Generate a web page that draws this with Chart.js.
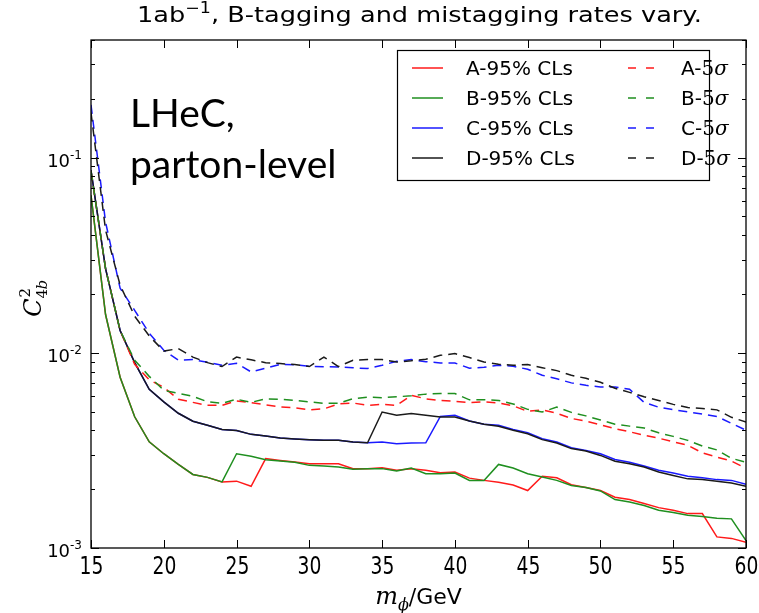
<!DOCTYPE html>
<html>
<head>
<meta charset="utf-8">
<script src="https://cdn.jsdelivr.net/npm/chart.js@4.4.1/dist/chart.umd.min.js"></script>
<style>
  html, body { margin: 0; padding: 0; background: #fff; }
  #wrap { width: 759px; height: 613px; }
</style>
</head>
<body>
<div id="wrap"><canvas id="c" width="759" height="613"></canvas></div>
<script>
// m_phi / GeV
const masses = [15, 16, 17, 18, 19, 20, 21, 22, 23, 24, 25, 26, 27, 28, 29, 30, 31, 32, 33, 34,
  35, 36, 37, 38, 39, 40, 41, 42, 43, 44, 45, 46, 47, 48, 49, 50, 51, 52, 53, 54,
  55, 56, 57, 58, 59, 60];

// 95% CLs curves
const a95 = [0.064, 0.0157, 0.0075, 0.0047, 0.0035, 0.00304, 0.00268, 0.00238, 0.0023, 0.00218,
  0.0022, 0.00207, 0.00287, 0.00281, 0.00276, 0.0027, 0.0027, 0.0027, 0.00255, 0.00255,
  0.00258, 0.0025, 0.00255, 0.0025, 0.00243, 0.00245, 0.00228, 0.00222, 0.00217, 0.0021,
  0.00197, 0.00233, 0.00229, 0.00211, 0.00204, 0.00197, 0.00182, 0.00177, 0.00169, 0.00161,
  0.00156, 0.0015, 0.0015, 0.00114, 0.00112, 0.00107];
const b95 = [0.064, 0.0157, 0.0075, 0.0047, 0.0035, 0.00304, 0.00268, 0.00238, 0.0023, 0.00218,
  0.00304, 0.00295, 0.00283, 0.00279, 0.00275, 0.00265, 0.00263, 0.0026, 0.00253, 0.00255,
  0.00255, 0.00248, 0.00257, 0.0024, 0.0024, 0.00242, 0.00222, 0.00222, 0.00268, 0.00257,
  0.0024, 0.00231, 0.00222, 0.00209, 0.00204, 0.00196, 0.00177, 0.00172, 0.00165, 0.00156,
  0.00152, 0.00147, 0.00145, 0.00142, 0.00141, 0.00109];
const c95 = [0.086, 0.027, 0.013, 0.0089, 0.0065, 0.0056, 0.0049, 0.00446, 0.00425, 0.00405,
  0.004, 0.00382, 0.00375, 0.00366, 0.00362, 0.00359, 0.00356, 0.00356, 0.00349, 0.00346,
  0.00349, 0.00342, 0.00345, 0.00346, 0.00472, 0.00478, 0.00447, 0.0043, 0.00425, 0.00405,
  0.0039, 0.00363, 0.00349, 0.00326, 0.00316, 0.00304, 0.00284, 0.00275, 0.00263, 0.0025,
  0.00242, 0.00233, 0.00229, 0.00224, 0.00222, 0.00212];
const d95 = [0.086, 0.027, 0.013, 0.0089, 0.0065, 0.0056, 0.0049, 0.00446, 0.00425, 0.00405,
  0.004, 0.00382, 0.00375, 0.00366, 0.00362, 0.00359, 0.00356, 0.00356, 0.00349, 0.00346,
  0.00497, 0.00478, 0.00488, 0.00478, 0.00469, 0.00469, 0.00447, 0.0043, 0.0042, 0.00401,
  0.00385, 0.00359, 0.00345, 0.00323, 0.00314, 0.00298, 0.00278, 0.0027, 0.0026, 0.00245,
  0.00235, 0.00226, 0.00224, 0.0022, 0.00215, 0.00207];

// 5 sigma curves
const a5s = [0.085, 0.027, 0.013, 0.00873, 0.00727, 0.00665, 0.00578, 0.00557, 0.00538, 0.00538,
  0.00567, 0.00555, 0.00541, 0.00528, 0.00522, 0.0051, 0.00516, 0.00547, 0.00553, 0.00538,
  0.00544, 0.00538, 0.00605, 0.00581, 0.0057, 0.00564, 0.00555, 0.0056, 0.00553, 0.00535,
  0.00501, 0.0051, 0.0049, 0.00461, 0.00446, 0.00428, 0.00408, 0.00394, 0.00378, 0.00365,
  0.0035, 0.00336, 0.00307, 0.00292, 0.00279, 0.00256];
const b5s = [0.085, 0.027, 0.013, 0.00916, 0.00757, 0.00642, 0.0062, 0.00598, 0.00561, 0.00551,
  0.00578, 0.00557, 0.00581, 0.00578, 0.0057, 0.00561, 0.00551, 0.00551, 0.00582, 0.00593,
  0.00589, 0.00595, 0.00602, 0.00614, 0.00618, 0.00618, 0.00574, 0.00575, 0.0057, 0.00547,
  0.00513, 0.00497, 0.00527, 0.00495, 0.00475, 0.00453, 0.0043, 0.00421, 0.00412, 0.00389,
  0.00373, 0.00356, 0.00333, 0.00318, 0.00288, 0.00275];
const c5s = [0.186, 0.0467, 0.0214, 0.0165, 0.0126, 0.0103, 0.00916, 0.00923, 0.00894, 0.00863,
  0.00884, 0.00798, 0.00833, 0.00873, 0.00867, 0.00853, 0.00849, 0.00846, 0.00838, 0.0083,
  0.00863, 0.00904, 0.00923, 0.009, 0.00887, 0.00887, 0.00833, 0.00843, 0.00863, 0.00853,
  0.00823, 0.00767, 0.00736, 0.00701, 0.00681, 0.00668, 0.00668, 0.0065, 0.00557, 0.00526,
  0.00511, 0.00498, 0.00486, 0.00472, 0.00435, 0.00401];
const d5s = [0.17, 0.0425, 0.0222, 0.0154, 0.0122, 0.0102, 0.0105, 0.0095, 0.0089, 0.0085,
  0.0095, 0.0092, 0.0089, 0.0088, 0.0087, 0.0085, 0.0095, 0.0085, 0.00916, 0.00923,
  0.00923, 0.00897, 0.0091, 0.00927, 0.0097, 0.0099, 0.00945, 0.00897, 0.00873, 0.00863,
  0.0087, 0.00838, 0.0081, 0.00767, 0.0074, 0.00706, 0.00658, 0.00627, 0.00595, 0.0057,
  0.00544, 0.00524, 0.00518, 0.0051, 0.00467, 0.00442];

const xTicks = [15, 20, 25, 30, 35, 40, 45, 50, 55, 60];
const yDecades = [-3, -2, -1];
const names95 = ['A-95% CLs', 'B-95% CLs', 'C-95% CLs', 'D-95% CLs'];
const names5s = ['A-', 'B-', 'C-', 'D-'];
const colors = ['#ff1a1a', '#1f8f1f', '#1a1aff', '#1a1a1a'];

const sets95 = [a95, b95, c95, d95];
const sets5s = [a5s, b5s, c5s, d5s];
const DASH = [9, 6];

function pts(arr) { return masses.map((m, i) => ({ x: m, y: arr[i] })); }

const datasets = [];
sets95.forEach((arr, i) => datasets.push({
  label: names95[i], data: pts(arr), borderColor: colors[i], borderWidth: 1.5, order: 8 - i
}));
sets5s.forEach((arr, i) => datasets.push({
  label: names5s[i] + '5σ', data: pts(arr), borderColor: colors[i], borderWidth: 1.5,
  borderDash: DASH, order: 4 - i
}));

// draw a list of text runs left to right: [text, font, dy]
function runs(ctx, parts, x, y) {
  let cx = x;
  parts.forEach(([t, f, dy]) => {
    ctx.font = f;
    ctx.fillText(t, cx, y + (dy || 0));
    cx += ctx.measureText(t).width;
  });
  return cx;
}
function runsWidth(ctx, parts) {
  let w = 0;
  parts.forEach(([t, f]) => { ctx.font = f; w += ctx.measureText(t).width; });
  return w;
}

const SANS = '"DejaVu Sans", sans-serif';
const SERIF = '"DejaVu Serif", serif';
const it = px => 'italic ' + px + 'px ' + SERIF;

const overlay = {
  id: 'overlay',
  afterDatasetsDraw(chart) {
    const { ctx, chartArea: a, scales: { x, y } } = chart;
    ctx.save();
    ctx.strokeStyle = '#000';
    ctx.fillStyle = '#000';
    ctx.lineWidth = 1;
    const seg = (x1, y1, x2, y2) => { ctx.beginPath(); ctx.moveTo(x1, y1); ctx.lineTo(x2, y2); ctx.stroke(); };

    // x ticks, inward on bottom and top
    ctx.textAlign = 'center';
    ctx.textBaseline = 'alphabetic';
    xTicks.forEach(v => {
      const px = Math.round(x.getPixelForValue(v)) + 0.5;
      seg(px, a.bottom, px, a.bottom - 8);
      seg(px, a.top, px, a.top + 8);
      ctx.save();
      ctx.translate(px, 574);
      ctx.scale(0.78, 1);
      ctx.font = '24px ' + SANS;
      ctx.fillText(String(v), 0, 0);
      ctx.restore();
    });

    // y ticks, log decades plus minor ticks
    yDecades.forEach(e => {
      const base = Math.pow(10, e);
      const py = Math.round(y.getPixelForValue(base)) + 0.5;
      seg(a.left, py, a.left + 8, py);
      seg(a.right, py, a.right - 8, py);
      for (let m = 2; m <= 9; m++) {
        const v = m * base;
        if (v > y.max) break;
        const q = Math.round(y.getPixelForValue(v)) + 0.5;
        seg(a.left, q, a.left + 4, q);
        seg(a.right, q, a.right - 4, q);
      }
      ctx.textAlign = 'left';
      const parts = [['10', '18px ' + SANS, 0], [String(e), '12px ' + SANS, -8]];
      const w = runsWidth(ctx, parts);
      runs(ctx, parts, 82 - w, py + 8);
    });

    // axes frame
    ctx.lineWidth = 1.3;
    ctx.strokeRect(a.left, a.top, a.right - a.left, a.bottom - a.top);

    // title with superscript
    const tparts = [['1ab', '22px ' + SANS, 0], ['\u22121', '15px ' + SANS, -9],
      [', B-tagging and mistagging rates vary.', '22px ' + SANS, 0]];
    const tw = runsWidth(ctx, tparts);
    ctx.save();
    ctx.translate(137, 22);
    ctx.scale(565 / tw, 1);
    ctx.textAlign = 'left';
    runs(ctx, tparts, 0, 0);
    ctx.restore();

    // y axis label C^2_{4b}
    ctx.save();
    ctx.translate(41, 298);
    ctx.rotate(-Math.PI / 2);
    ctx.textAlign = 'left';
    ctx.font = it(24);
    const cw = ctx.measureText('C').width;
    ctx.font = '15px ' + SERIF;
    const sw = ctx.measureText('2').width;
    ctx.font = it(15);
    const bw = ctx.measureText('4b').width;
    const x0 = -(cw + Math.max(sw, bw)) / 2;
    ctx.font = it(24);
    ctx.fillText('C', x0, 0);
    ctx.font = '15px ' + SERIF;
    ctx.fillText('2', x0 + cw + 1, -11);
    ctx.fillText('4', x0 + cw, 6);
    ctx.font = it(15);
    ctx.fillText('b', x0 + cw + 9, 6);
    ctx.restore();

    // x axis label m_phi / GeV
    const xparts = [['m', it(24), 0], ['\u03d5', it(16), 6], ['/', '22px ' + SERIF, 0],
      ['GeV', '22px ' + SANS, 0]];
    const xw = runsWidth(ctx, xparts);
    ctx.textAlign = 'left';
    runs(ctx, xparts, (a.left + a.right) / 2 - xw / 2, 604);

    // annotation
    ctx.font = '39px Lato, "Open Sans", sans-serif';
    ctx.fillText('LHeC,', 130, 127);
    ctx.fillText('parton-level', 130, 178);

    // legend
    const L = { x: 397.5, y: 50.5, w: 312, h: 130 };
    ctx.fillStyle = '#fff';
    ctx.fillRect(L.x, L.y, L.w, L.h);
    ctx.lineWidth = 1.2;
    ctx.strokeStyle = '#000';
    ctx.strokeRect(L.x, L.y, L.w, L.h);
    const rowsY = [68, 98, 128, 158];
    rowsY.forEach((ry, i) => {
      ctx.lineWidth = 1.5;
      ctx.strokeStyle = colors[i];
      ctx.setLineDash([]);
      seg(412, ry, 443, ry);
      ctx.setLineDash([8, 10]);
      seg(628, ry, 655, ry);
      ctx.setLineDash([]);
      ctx.fillStyle = '#000';
      ctx.textAlign = 'left';
      ctx.font = '20px ' + SANS;
      ctx.fillText(names95[i], 466, ry + 7);
      runs(ctx, [[names5s[i], '20px ' + SANS, 0], ['5', '20px ' + SERIF, 0],
        ['\u03c3', it(20), 0]], 681, ry + 7);
    });
    ctx.restore();
  }
};

new Chart(document.getElementById('c'), {
  type: 'line',
  data: { datasets },
  options: {
    responsive: false,
    animation: false,
    devicePixelRatio: 1,
    layout: { padding: { left: 91, right: 13, top: 40, bottom: 65 } },
    plugins: { legend: { display: false }, tooltip: { enabled: false } },
    elements: { point: { radius: 0 }, line: { tension: 0 } },
    scales: {
      x: { type: 'linear', min: 15, max: 60, display: false },
      y: { type: 'logarithmic', min: 0.001, max: 0.4, display: false }
    }
  },
  plugins: [overlay]
});
</script>
</body>
</html>
